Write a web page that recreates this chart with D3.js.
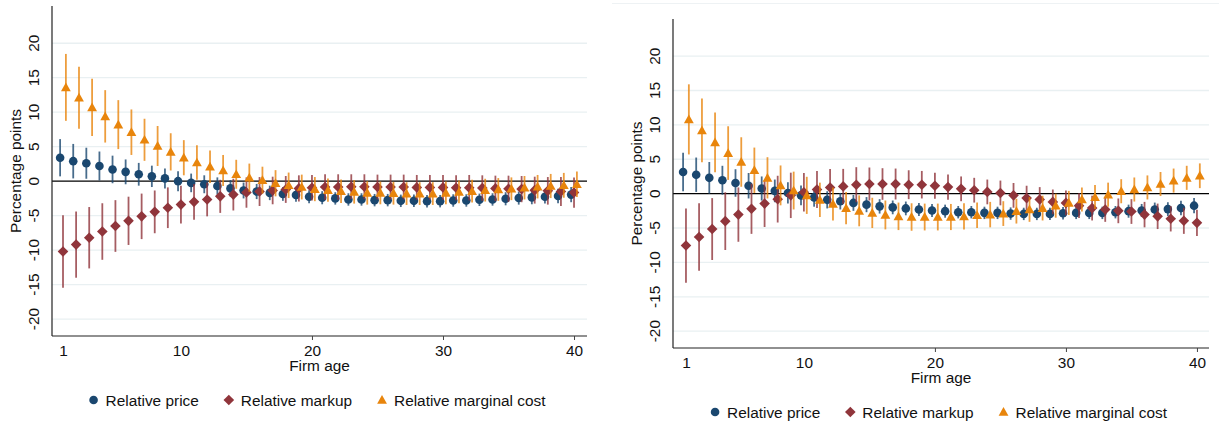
<!DOCTYPE html>
<html>
<head>
<meta charset="utf-8">
<script src="https://cdn.jsdelivr.net/npm/d3@7"></script>
<style>
  body { margin: 0; background: #fff; }
  svg { display: block; font-family: "Liberation Sans", Arial, sans-serif; }
</style>
</head>
<body>
<div id="chart"></div>
<script>
// firm age categories and axis ticks
var ages = [1,2,3,4,5,6,7,8,9,10,11,12,13,14,15,16,17,18,19,20,
            21,22,23,24,25,26,27,28,29,30,31,32,33,34,35,36,37,38,39,40];
var xTicks = [1, 10, 20, 30, 40];
var yTicks = [-20, -15, -10, -5, 0, 5, 10, 15, 20];
var seriesNames = ['Relative price', 'Relative markup', 'Relative marginal cost'];

// left panel: point estimates and CI half widths
var leftPrice = [3.4,2.9,2.6,2.2,1.7,1.35,1.0,0.7,0.4,0.0,-0.25,-0.45,-0.7,-1.05,-1.35,-1.5,-1.7,-1.85,-2.0,-2.25,
                 -2.4,-2.5,-2.65,-2.65,-2.75,-2.75,-2.85,-2.85,-2.9,-2.9,-2.8,-2.8,-2.7,-2.65,-2.55,-2.45,-2.35,-2.25,-2.15,-1.95];
var leftPriceCI = [2.7,2.5,2.25,2.1,2.0,1.8,1.65,1.55,1.45,1.45,1.35,1.3,1.25,1.2,1.15,1.1,1.05,1.0,1.0,0.95,
                   0.95,0.9,0.9,0.9,0.9,0.9,0.9,0.9,0.9,0.9,0.9,0.9,0.9,0.9,0.95,0.95,1.0,1.0,1.05,1.1];
var leftMarkup = [-10.2,-9.2,-8.2,-7.3,-6.5,-5.75,-5.1,-4.45,-3.85,-3.4,-3.0,-2.65,-2.2,-1.95,-1.65,-1.5,-1.35,-1.2,-1.05,-0.95,
                  -0.85,-0.85,-0.8,-0.8,-0.85,-0.85,-0.85,-0.9,-0.9,-0.9,-0.95,-0.95,-1.0,-1.05,-1.1,-1.15,-1.3,-1.4,-1.5,-1.65];
var leftMarkupCI = [5.25,4.8,4.45,4.1,3.75,3.5,3.3,3.1,2.95,2.75,2.6,2.45,2.4,2.3,2.2,2.1,2.0,1.95,1.9,1.85,
                    1.85,1.85,1.8,1.8,1.8,1.8,1.8,1.8,1.8,1.8,1.8,1.85,1.85,1.85,1.9,1.9,1.95,2.0,2.1,2.2];
var leftCost = [13.6,12.1,10.7,9.4,8.2,7.1,6.0,5.1,4.25,3.4,2.7,2.1,1.55,1.0,0.5,0.15,-0.3,-0.6,-0.85,-1.15,
                -1.3,-1.45,-1.55,-1.7,-1.7,-1.75,-1.8,-1.8,-1.8,-1.7,-1.55,-1.45,-1.3,-1.2,-1.1,-0.95,-0.8,-0.7,-0.6,-0.45];
var leftCostCI = [4.85,4.5,4.15,3.8,3.55,3.3,3.05,2.9,2.7,2.55,2.5,2.35,2.25,2.1,2.05,1.95,1.9,1.85,1.8,1.75,
                  1.7,1.7,1.7,1.7,1.65,1.65,1.65,1.65,1.65,1.65,1.65,1.65,1.65,1.65,1.65,1.7,1.7,1.75,1.8,1.85];

// right panel
var rightPrice = [3.15,2.75,2.3,1.95,1.55,1.15,0.75,0.4,0.1,-0.25,-0.55,-0.9,-1.1,-1.35,-1.6,-1.85,-2.0,-2.15,-2.3,-2.45,
                  -2.55,-2.7,-2.7,-2.8,-2.8,-2.9,-2.95,-2.95,-2.95,-2.85,-2.8,-2.8,-2.8,-2.7,-2.55,-2.45,-2.3,-2.25,-2.1,-1.75];
var rightPriceCI = [2.8,2.5,2.3,2.1,2.0,1.85,1.75,1.65,1.55,1.45,1.35,1.25,1.2,1.15,1.1,1.05,1.0,1.0,0.95,0.95,
                    0.95,0.9,0.9,0.9,0.9,0.9,0.9,0.9,0.9,0.9,0.9,0.9,0.9,0.9,0.95,0.95,1.0,1.0,1.05,1.1];
var rightMarkup = [-7.55,-6.3,-5.15,-4.0,-3.05,-2.2,-1.45,-0.8,-0.25,0.2,0.6,0.9,1.05,1.3,1.4,1.4,1.4,1.3,1.3,1.15,
                   0.95,0.7,0.5,0.25,0.1,-0.25,-0.65,-0.85,-1.2,-1.35,-1.75,-2.1,-2.3,-2.5,-2.6,-3.05,-3.3,-3.65,-3.95,-4.25];
var rightMarkupCI = [5.4,4.9,4.5,4.2,3.95,3.65,3.4,3.4,3.3,2.8,2.7,2.7,2.55,2.55,2.4,2.3,2.25,2.1,2.0,1.9,
                     1.85,1.8,1.8,1.8,1.8,1.8,1.8,1.8,1.8,1.8,1.8,1.8,1.8,1.8,1.8,1.85,1.85,1.85,1.9,1.9];
var rightCost = [10.8,9.2,7.45,5.9,4.6,3.4,2.3,1.2,0.45,-0.25,-0.9,-1.5,-2.1,-2.5,-2.8,-3.1,-3.3,-3.4,-3.4,-3.4,
                 -3.4,-3.3,-3.15,-3.05,-2.9,-2.55,-2.3,-2.1,-1.75,-1.35,-0.85,-0.5,-0.15,0.35,0.6,0.9,1.4,1.9,2.3,2.6];
var rightCostCI = [5.1,4.65,4.35,3.9,3.6,3.3,3.0,2.9,2.75,2.7,2.5,2.4,2.35,2.25,2.2,2.1,2.0,2.0,1.95,1.95,
                   1.9,1.9,1.85,1.85,1.8,1.8,1.8,1.8,1.75,1.75,1.75,1.75,1.75,1.75,1.75,1.75,1.75,1.75,1.75,1.8];

var colors = ['#1a476f', '#90353b', '#e8850c'];
var shapes = ['circle', 'diamond', 'triangle'];
var offsets = [-0.22, 0, 0.22];   // small horizontal dodge between series
var fontSize = 15.4;

var svg = d3.select('#chart').append('svg')
  .attr('width', 1221)
  .attr('height', 424);

// faint frame line along the top of the right graph
svg.append('line')
  .attr('x1', 612).attr('x2', 1219)
  .attr('y1', 3.5).attr('y2', 3.5)
  .attr('stroke', '#eef2f4')
  .attr('stroke-width', 1);

function markerPath(shape) {
  if (shape === 'circle') return d3.symbol(d3.symbolCircle, Math.PI * 4.3 * 4.3)();
  if (shape === 'diamond') return 'M0,-5.3L5.3,0L0,5.3L-5.3,0Z';
  return 'M0,-4.9L4.9,3.8L-4.9,3.8Z';
}

function drawPanel(p) {
  var g = svg.append('g');

  var x = d3.scaleLinear().domain(p.xDomain).range([p.left, p.right]);
  var y = d3.scaleLinear().domain([-22.45, 25.4]).range([p.bottom, p.top]);

  // gridlines
  g.selectAll('.grid')
    .data(yTicks.filter(function (d) { return d !== 0; }))
    .enter().append('line')
    .attr('x1', p.left).attr('x2', p.right)
    .attr('y1', function (d) { return y(d); })
    .attr('y2', function (d) { return y(d); })
    .attr('stroke', '#e9f0f2')
    .attr('stroke-width', 1.3);

  // zero line
  g.append('line')
    .attr('x1', p.left).attr('x2', p.right)
    .attr('y1', y(0)).attr('y2', y(0))
    .attr('stroke', '#000')
    .attr('stroke-width', 1.4);

  // y axis
  g.append('line')
    .attr('x1', p.left).attr('x2', p.left)
    .attr('y1', p.top).attr('y2', p.bottom)
    .attr('stroke', '#222').attr('stroke-width', 1.2);

  g.selectAll('.ylab')
    .data(yTicks)
    .enter().append('text')
    .attr('transform', function (d) { return 'translate(' + (p.left - 13) + ',' + y(d) + ') rotate(-90)'; })
    .attr('text-anchor', 'middle')
    .attr('font-size', fontSize)
    .attr('fill', '#111')
    .text(function (d) { return d; });

  g.append('text')
    .attr('transform', 'translate(' + (p.left - 31) + ',' + ((p.top + p.bottom) / 2) + ') rotate(-90)')
    .attr('text-anchor', 'middle')
    .attr('font-size', fontSize)
    .attr('fill', '#111')
    .text('Percentage points');

  // x axis
  var xAxis = d3.axisBottom(x)
    .tickValues(xTicks)
    .tickSizeOuter(0)
    .tickSizeInner(4)
    .tickPadding(5);

  var ax = g.append('g')
    .attr('transform', 'translate(0,' + p.bottom + ')')
    .call(xAxis);
  ax.select('.domain').attr('stroke', '#222').attr('stroke-width', 1.2)
    .attr('d', 'M' + p.left + ',0H' + p.right);
  ax.selectAll('.tick line').attr('stroke', '#444')
    .attr('y2', function (d) { return d < 20 ? 0 : 4; });
  ax.selectAll('.tick text')
    .attr('font-size', fontSize)
    .attr('fill', '#111')
    .attr('font-family', '"Liberation Sans", Arial, sans-serif');

  g.append('text')
    .attr('x', (p.left + p.right) / 2)
    .attr('y', p.bottom + 35)
    .attr('text-anchor', 'middle')
    .attr('font-size', fontSize)
    .attr('fill', '#111')
    .text('Firm age');

  // series: CI bars, then markers
  p.series.forEach(function (s, i) {
    var pts = ages.map(function (a, k) {
      return {age: a + offsets[i], v: s.values[k], lo: s.values[k] - s.ci[k], hi: s.values[k] + s.ci[k]};
    });
    var sg = g.append('g');
    sg.selectAll('line')
      .data(pts)
      .enter().append('line')
      .attr('x1', function (d) { return x(d.age); })
      .attr('x2', function (d) { return x(d.age); })
      .attr('y1', function (d) { return y(d.lo); })
      .attr('y2', function (d) { return y(d.hi); })
      .attr('stroke', colors[i])
      .attr('stroke-opacity', 0.8)
      .attr('stroke-width', 1.8);
    sg.selectAll('path')
      .data(pts)
      .enter().append('path')
      .attr('d', markerPath(shapes[i]))
      .attr('transform', function (d) { return 'translate(' + x(d.age) + ',' + y(d.v) + ')'; })
      .attr('fill', colors[i]);
  });

  // legend, centred under the plot
  var lg = g.append('g').attr('transform', 'translate(0,' + p.legendY + ')');
  var items = lg.selectAll('g')
    .data(seriesNames)
    .enter().append('g');
  items.append('path')
    .attr('d', function (d, i) { return markerPath(shapes[i]); })
    .attr('fill', function (d, i) { return colors[i]; });
  items.append('text')
    .attr('x', 12)
    .attr('y', 5.5)
    .attr('font-size', fontSize)
    .attr('fill', '#111')
    .text(function (d) { return d; });

  var pos = 0, starts = [];
  items.each(function () {
    starts.push(pos);
    var w = this.querySelector('text').getComputedTextLength();
    pos += 12 + w + 30;
  });
  var total = pos - 30 + 4;
  var x0 = (p.left + p.right) / 2 - total / 2 + 2;
  items.attr('transform', function (d, i) { return 'translate(' + (x0 + starts[i]) + ',0)'; });
}

drawPanel({
  left: 52, right: 587, top: 6, bottom: 336,
  xDomain: [0.16, 40.99],
  legendY: 400,
  series: [
    {values: leftPrice, ci: leftPriceCI},
    {values: leftMarkup, ci: leftMarkupCI},
    {values: leftCost, ci: leftCostCI}
  ]
});

drawPanel({
  left: 673, right: 1209, top: 19, bottom: 348,
  xDomain: [0.01, 40.92],
  legendY: 412,
  series: [
    {values: rightPrice, ci: rightPriceCI},
    {values: rightMarkup, ci: rightMarkupCI},
    {values: rightCost, ci: rightCostCI}
  ]
});
</script>
</body>
</html>
